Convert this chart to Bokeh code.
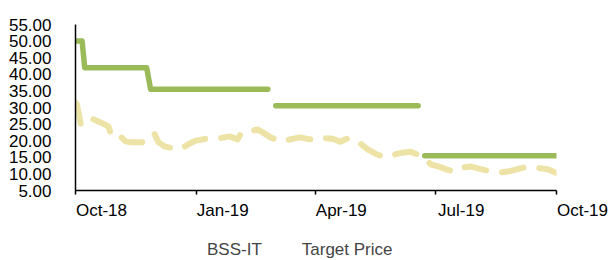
import numpy as np
import pandas as pd
from bokeh.plotting import figure
from bokeh.layouts import column
from bokeh.models import Range1d, FixedTicker, NumeralTickFormatter, Legend, LegendItem
from bokeh.embed import file_html
from bokeh.resources import INLINE

# ---- data ----
price_dates = ["2018-10-01", "2018-10-02", "2018-10-05", "2018-10-08", "2018-10-11", "2018-10-15",
               "2018-10-20", "2018-10-26", "2018-10-28", "2018-10-31", "2018-11-04", "2018-11-08",
               "2018-11-12", "2018-11-18", "2018-11-23", "2018-11-27", "2018-11-30", "2018-12-03",
               "2018-12-08", "2018-12-13", "2018-12-19", "2018-12-25", "2018-12-31", "2019-01-08",
               "2019-01-13", "2019-01-19", "2019-01-26", "2019-02-01", "2019-02-04", "2019-02-10",
               "2019-02-16", "2019-02-20", "2019-02-26", "2019-03-06", "2019-03-13", "2019-03-20",
               "2019-03-28", "2019-04-03", "2019-04-08", "2019-04-14", "2019-04-20", "2019-04-25",
               "2019-05-01", "2019-05-06", "2019-05-11", "2019-05-17", "2019-05-24", "2019-05-31",
               "2019-06-06", "2019-06-12", "2019-06-18", "2019-06-23", "2019-06-28", "2019-07-04",
               "2019-07-10", "2019-07-15", "2019-07-20", "2019-07-28", "2019-08-04", "2019-08-13",
               "2019-08-19", "2019-08-25", "2019-08-31", "2019-09-09", "2019-09-17", "2019-09-25",
               "2019-09-30"]
price_values = [31.5, 31.0, 25.0, 26.4, 27.0, 26.4,
                25.5, 24.3, 21.9, 22.5, 21.3, 19.8,
                19.5, 19.5, 19.5, 20.4, 22.0, 19.5,
                18.2, 17.8, 17.3, 18.8, 20.0, 20.6,
                20.4, 20.8, 21.3, 20.4, 22.5, 22.8,
                23.4, 22.5, 21.0, 19.7, 20.4, 21.0,
                20.4, 21.0, 20.8, 20.6, 19.7, 20.6,
                20.4, 18.9, 17.3, 16.0, 15.0, 15.8,
                16.4, 16.7, 15.8, 14.5, 12.8, 12.2,
                11.3, 10.7, 11.9, 12.2, 11.5, 10.7,
                10.4, 10.7, 11.3, 12.2, 11.8, 11.3,
                10.4]

target_dates = ["2018-10-01", "2018-10-06", "2018-10-08", "2018-11-24", "2018-11-27", "2019-02-24",
                None,
                "2019-03-02", "2019-06-18",
                None,
                "2019-06-23", "2019-10-01"]
target_values = [50, 50, 42, 42, 35.5, 35.5,
                 None,
                 30.5, 30.5,
                 None,
                 15.5, 15.5]

y_ticks = [5, 10, 15, 20, 25, 30, 35, 40, 45, 50, 55]
x_tick_dates = ["2018-10-01", "2019-01-01", "2019-04-01", "2019-07-01", "2019-10-01"]
x_tick_labels = ["Oct-18", "Jan-19", "Apr-19", "Jul-19", "Oct-19"]
series_names = ["BSS-IT", "Target Price"]


def to_ms(d):
    if d is None:
        return np.nan
    return pd.Timestamp(d).value / 1e6


px = [to_ms(d) for d in price_dates]
tx = [to_ms(d) for d in target_dates]
ty = [np.nan if v is None else v for v in target_values]
xt = [to_ms(d) for d in x_tick_dates]

FONT = "Liberation Sans"

p = figure(width=608, height=224, output_backend="svg", toolbar_location=None,
           x_range=Range1d(xt[0], xt[-1]), y_range=Range1d(5, 55),
           min_border_left=75, min_border_right=52, min_border_top=24, min_border_bottom=34)
p.outline_line_color = None
p.xgrid.visible = False
p.ygrid.visible = False

p.line(px, price_values, line_color="#ede3a6", line_width=6, line_dash="22 16",
       line_cap="round", line_join="round")
p.line(tx, ty, line_color="#9bbb59", line_width=5.5, line_cap="round", line_join="round")

NB = "\u00a0"
p.xaxis.ticker = FixedTicker(ticks=xt)
# labels start at their tick (left aligned) -> pad with leading no-break spaces
p.xaxis.major_label_overrides = {v: NB * 11 + s for v, s in zip(xt, x_tick_labels)}
p.xaxis.major_label_text_font = FONT
p.xaxis.major_label_text_font_size = "17px"
p.xaxis.major_label_text_color = "black"
p.xaxis.major_tick_in = 0
p.xaxis.major_tick_out = 4
p.xaxis.minor_tick_line_color = None
p.xaxis.major_label_standoff = 6
p.xaxis.axis_line_width = 1.5
p.xaxis.major_tick_line_width = 1.5

p.yaxis.ticker = FixedTicker(ticks=y_ticks)
p.yaxis.formatter = NumeralTickFormatter(format="0.00")
p.yaxis.major_label_text_font = FONT
p.yaxis.major_label_text_font_size = "17px"
p.yaxis.major_label_text_color = "black"
p.yaxis.major_tick_line_color = None
p.yaxis.minor_tick_line_color = None
p.yaxis.major_label_standoff = 18
p.yaxis.axis_line_width = 1.5

# legend strip (separate small figure, so the legend is not clipped)
lg = figure(width=608, height=36, output_backend="svg", toolbar_location=None,
            x_range=Range1d(0, 1), y_range=Range1d(0, 1),
            x_axis_location=None, y_axis_location=None, min_border=0)
lg.outline_line_color = None
lg.xgrid.visible = False
lg.ygrid.visible = False
l1 = lg.line([], [], line_color="#f1ebcf", line_width=2, line_dash="8 5")
l2 = lg.line([], [], line_color="#a9d1de", line_width=2)

legend = Legend(items=[LegendItem(label=series_names[0], renderers=[l1]),
                       LegendItem(label=series_names[1], renderers=[l2])],
                orientation="horizontal", location=(96, 0),
                border_line_color=None, background_fill_alpha=0,
                label_text_font=FONT, label_text_font_size="17px",
                glyph_width=20, glyph_height=16, label_standoff=16, spacing=4,
                padding=0, margin=0, label_height=18)
lg.add_layout(legend, "center")

layout = column(p, lg, spacing=0)
open("out.html", "w").write(file_html(layout, INLINE))
